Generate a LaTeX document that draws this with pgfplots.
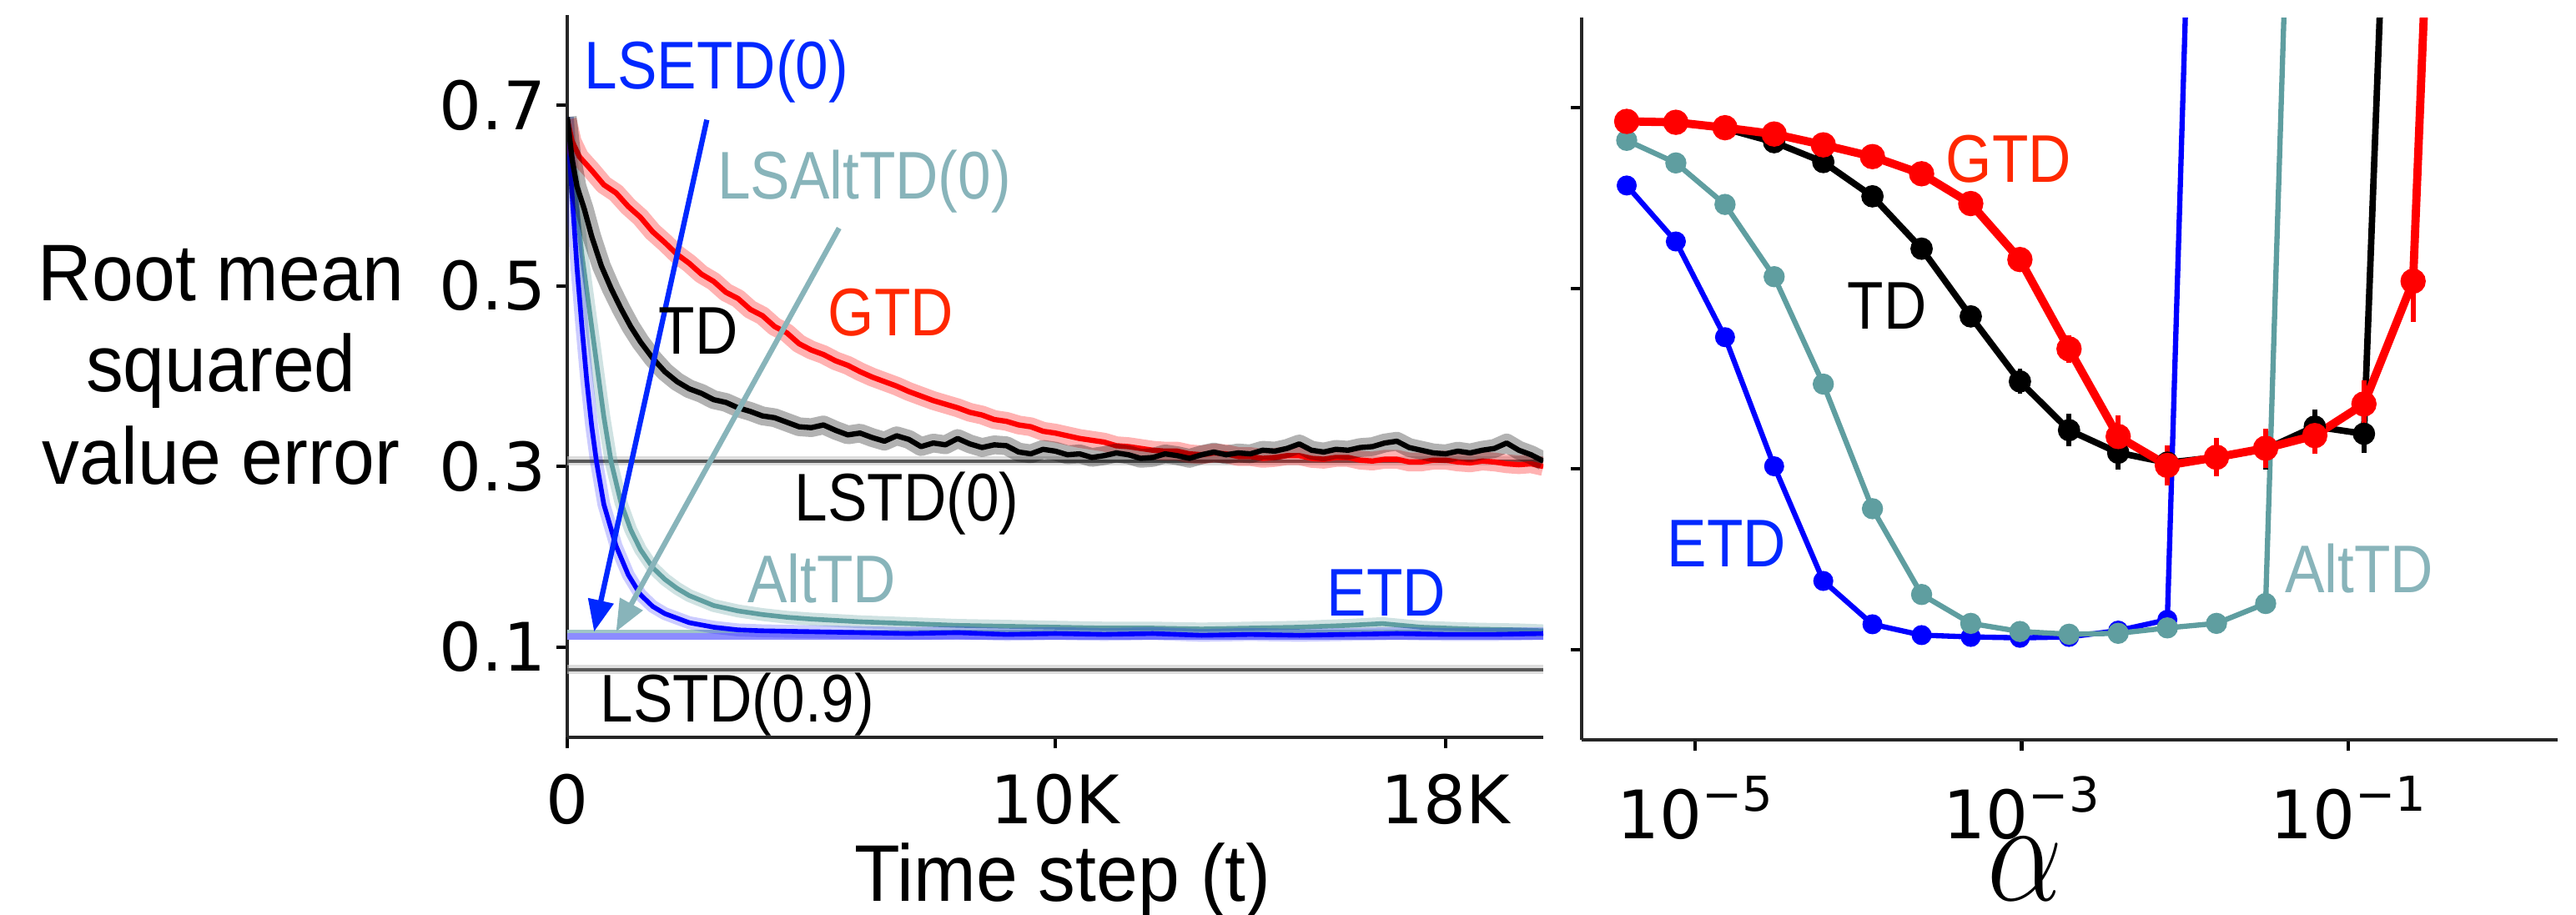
\documentclass[border=0pt]{standalone}
\usepackage{fontspec}
\setmainfont{Liberation Sans}
\newfontfamily\dejavu{DejaVu Sans}
\usepackage{graphicx}
\usepackage{pgfplots}
\pgfplotsset{compat=1.18}
\usetikzlibrary{arrows.meta}

\definecolor{etdblue}{RGB}{0,0,255}
\definecolor{lblblue}{RGB}{0,40,255}
\definecolor{altteal}{RGB}{95,158,160}
\definecolor{altlabel}{RGB}{136,180,186}
\definecolor{gtdred}{RGB}{255,0,0}
\definecolor{gtdlabel}{RGB}{255,40,0}

\newcommand\lab{\fontsize{11.5}{13}\selectfont}
\newcommand\sq[1]{\scalebox{0.88}[1]{#1}}
\newcommand\axlab{\fontsize{13.7}{15}\selectfont}
\newcommand\sqa[1]{\scalebox{0.93}[1]{#1}}
\newcommand\tk{\dejavu\fontsize{11.4}{13}\selectfont}
\newcommand\ex[1]{{\tk 10\raisebox{4.6pt}{\fontsize{8.2}{9}\selectfont #1}}}

% learning curves (time step, RMSVE)
\pgfplotstableread{
t v
0 0.687
100 0.640
200 0.610
350 0.585
500 0.555
700 0.522
900 0.497
1100 0.475
1300 0.455
1500 0.438
1750 0.420
2000 0.405
2250 0.394
2500 0.386
2750 0.381
3000 0.374
3250 0.371
3500 0.365
3750 0.361
4000 0.356
4250 0.354
4500 0.349
4750 0.344
5000 0.343
5250 0.346
5500 0.340
5750 0.335
6000 0.337
6250 0.332
6500 0.328
6750 0.334
7000 0.330
7250 0.322
7500 0.326
7750 0.324
8000 0.331
8250 0.325
8500 0.321
8750 0.324
9000 0.323
9250 0.316
9500 0.314
9750 0.319
10000 0.317
10250 0.313
10500 0.314
10750 0.310
11000 0.312
11250 0.315
11500 0.313
11750 0.309
12000 0.310
12250 0.314
12500 0.312
12750 0.309
13000 0.313
13250 0.316
13500 0.313
13750 0.315
14000 0.314
14250 0.318
14500 0.317
14750 0.320
15000 0.325
15250 0.318
15500 0.316
15750 0.319
16000 0.318
16250 0.321
16500 0.322
16750 0.326
17000 0.328
17250 0.321
17500 0.318
17750 0.315
18000 0.314
18250 0.317
18500 0.315
18750 0.318
19000 0.320
19250 0.326
19500 0.318
19750 0.313
20000 0.306
}\tdcurve

\pgfplotstableread{
t v
0 0.684
100 0.660
250 0.643
500 0.628
750 0.612
1000 0.603
1250 0.588
1500 0.576
1750 0.560
2000 0.548
2250 0.535
2500 0.525
2750 0.513
3000 0.505
3250 0.493
3500 0.486
3750 0.474
4000 0.467
4250 0.455
4500 0.448
4750 0.436
5000 0.429
5250 0.424
5500 0.417
5750 0.412
6000 0.405
6250 0.399
6500 0.394
6750 0.389
7000 0.383
7250 0.378
7500 0.373
7750 0.369
8000 0.365
8250 0.360
8500 0.357
8750 0.352
9000 0.350
9250 0.346
9500 0.344
9750 0.339
10000 0.337
10250 0.334
10500 0.331
10750 0.329
11000 0.327
11250 0.323
11500 0.322
11750 0.320
12000 0.318
12250 0.317
12500 0.317
12750 0.314
13000 0.313
13250 0.315
13500 0.314
13750 0.311
14000 0.311
14250 0.309
14500 0.310
14750 0.312
15000 0.312
15250 0.309
15500 0.308
15750 0.310
16000 0.310
16250 0.307
16500 0.306
16750 0.308
17000 0.308
17250 0.305
17500 0.305
17750 0.307
18000 0.307
18250 0.305
18500 0.304
18750 0.306
19000 0.305
19250 0.303
19500 0.302
19750 0.303
20000 0.300
}\gtdcurve

\pgfplotstableread{
t v
0 0.687
50 0.640
100 0.600
150 0.560
200 0.520
300 0.455
400 0.395
500 0.345
600 0.305
750 0.258
1000 0.212
1250 0.180
1500 0.158
1750 0.145
2000 0.137
2500 0.127
3000 0.122
3500 0.119
4000 0.118
5000 0.117
6000 0.116
7000 0.115
8000 0.116
9000 0.114
10000 0.115
11000 0.114
12000 0.115
13000 0.113
14000 0.114
15000 0.113
16000 0.114
17000 0.115
18000 0.114
19000 0.114
20000 0.115
}\etdcurve

\pgfplotstableread{
t v
0 0.687
100 0.630
200 0.585
300 0.535
400 0.495
500 0.455
600 0.415
750 0.355
900 0.305
1100 0.260
1300 0.230
1500 0.208
1750 0.188
2000 0.175
2250 0.165
2500 0.157
3000 0.146
3500 0.140
4000 0.136
4500 0.133
5000 0.131
6000 0.128
7000 0.126
8000 0.124
9000 0.123
10000 0.122
11000 0.121
12000 0.121
13000 0.120
14000 0.121
15000 0.122
16000 0.124
16700 0.126
17500 0.122
18500 0.120
19500 0.119
20000 0.118
}\altcurve

% parameter study (step size, RMSVE, error)
\pgfplotstableread{
a v e
3.8147e-6 0.685 0
7.6294e-6 0.684 0
1.5259e-5 0.677 0
3.0518e-5 0.662 0.004
6.1035e-5 0.640 0.004
1.2207e-4 0.602 0.005
2.4414e-4 0.544 0.006
4.8828e-4 0.469 0.008
9.7656e-4 0.397 0.014
1.9531e-3 0.343 0.018
3.9063e-3 0.318 0.019
7.8125e-3 0.307 0.019
1.5625e-2 0.313 0.020
3.125e-2 0.322 0.023
6.25e-2 0.347 0.019
0.125 0.339 0.021
0.25 1.78 0
}\tdsweep

\pgfplotstableread{
a v e
3.8147e-6 0.685 0.003
7.6294e-6 0.684 0.003
1.5259e-5 0.678 0.003
3.0518e-5 0.671 0.003
6.1035e-5 0.659 0.004
1.2207e-4 0.646 0.004
2.4414e-4 0.627 0.005
4.8828e-4 0.594 0.006
9.7656e-4 0.532 0.008
1.9531e-3 0.433 0.015
3.9063e-3 0.336 0.023
7.8125e-3 0.304 0.022
1.5625e-2 0.313 0.021
3.125e-2 0.323 0.022
6.25e-2 0.337 0.020
0.125 0.372 0.026
0.25 0.508 0.045
0.5 1.86 0
}\gtdsweep

\pgfplotstableread{
a v
3.8147e-6 0.664
7.6294e-6 0.639
1.5259e-5 0.593
3.0518e-5 0.513
6.1035e-5 0.394
1.2207e-4 0.256
2.4414e-4 0.161
4.8828e-4 0.129
9.7656e-4 0.120
1.9531e-3 0.117
3.9063e-3 0.118
7.8125e-3 0.124
1.5625e-2 0.129
3.125e-2 0.151
6.25e-2 1.90
}\altsweep

\pgfplotstableread{
a v
3.8147e-6 0.614
7.6294e-6 0.552
1.5259e-5 0.446
3.0518e-5 0.303
6.1035e-5 0.176
1.2207e-4 0.128
2.4414e-4 0.116
4.8828e-4 0.114
9.7656e-4 0.113
1.9531e-3 0.114
3.9063e-3 0.121
7.8125e-3 0.133
1.5625e-2 1.96
}\etdsweep

\pgfplotsset{
  panel/.style={
    anchor=south west, scale only axis,
    width=5.85cm, height=4.33cm,
    ymin=0, ymax=0.8,
    axis x line*=bottom, axis y line*=left,
    axis line style={black!85, line width=0.7pt},
    tick style={black, line width=0.6pt},
    tick align=outside, major tick length=0.065cm,
    ytick={0.1,0.3,0.5,0.7},
    scaled x ticks=false, scaled y ticks=false,
    xticklabel style={yshift=-0.03cm},
    yticklabel style={xshift=0.06cm},
  },
}

\begin{document}
\begin{tikzpicture}
\useasboundingbox (0,0) rectangle (15.44,5.48);

\begin{axis}[panel, at={(3.40cm,1.06cm)},
  xmin=0, xmax=20000,
  xtick={0,10000,18000}, xticklabels={{\tk 0},{\tk 10K},{\tk 18K}},
  yticklabels={{\tk 0.1},{\tk 0.3},{\tk 0.5},{\tk 0.7}},
]
% least-squares solutions
\addplot[gray!45, line width=1.6pt, opacity=0.6] coordinates {(0,0.306)(20000,0.306)};
\addplot[black!65, line width=0.6pt] coordinates {(0,0.306)(20000,0.306)};
\addplot[gray!45, line width=1.6pt, opacity=0.6] coordinates {(0,0.075)(20000,0.075)};
\addplot[black!65, line width=0.6pt] coordinates {(0,0.075)(20000,0.075)};
\addplot[altteal!60, line width=0.8pt] coordinates {(0,0.117)(20000,0.117)};
\addplot[etdblue!45, line width=1.2pt] coordinates {(0,0.112)(20000,0.112)};
% AltTD
\addplot[altteal, line width=2.2pt, opacity=0.3, line join=round] table {\altcurve};
\addplot[altteal, line width=0.8pt, line join=round] table {\altcurve};
% ETD
\addplot[etdblue, line width=2.2pt, opacity=0.2, line join=round] table {\etdcurve};
\addplot[etdblue, line width=0.8pt, line join=round] table {\etdcurve};
% GTD
\addplot[gtdred, line width=3.2pt, opacity=0.3, line join=round] table {\gtdcurve};
\addplot[gtdred, line width=0.9pt, line join=round] table {\gtdcurve};
% TD
\addplot[black, line width=3.2pt, opacity=0.3, line join=round] table {\tdcurve};
\addplot[black, line width=0.9pt, line join=round] table {\tdcurve};
% arrows to LS solutions
\draw[lblblue, line width=0.9pt, -{Triangle[length=0.19cm,width=0.15cm]}]
  (axis cs:2860,0.684) -- (axis cs:550,0.117);
\draw[altlabel, line width=0.9pt, -{Triangle[length=0.19cm,width=0.15cm]}]
  (axis cs:5570,0.564) -- (axis cs:1000,0.117);
\end{axis}

\begin{axis}[panel, at={(9.48cm,1.045cm)},
  xmode=log, xmin=2.02e-6, xmax=1.92,
  xtick={1e-5,1e-3,1e-1},
  xticklabels={\ex{−5},\ex{−3},\ex{−1}},
  xminorticks=false,
  yticklabels={},
]
\addplot[etdblue, line width=0.9pt, mark=*, mark size=1.25pt] table[x=a,y=v] {\etdsweep};
\addplot[altteal, line width=0.9pt, mark=*, mark size=1.35pt] table[x=a,y=v] {\altsweep};
\addplot[black, line width=1.1pt, mark=*, mark size=1.35pt,
  error bars/.cd, y dir=both, y explicit, error mark=none,
  error bar style={line width=0.8pt}]
  table[x=a,y=v,y error=e] {\tdsweep};
\addplot[gtdred, line width=1.4pt, mark=*, mark size=1.45pt,
  error bars/.cd, y dir=both, y explicit, error mark=none,
  error bar style={line width=0.8pt}]
  table[x=a,y=v,y error=e] {\gtdsweep};
\end{axis}

% y label
\node[inner sep=0, anchor=base] at (1.325,3.68) {\axlab\sqa{Root mean}};
\node[inner sep=0, anchor=base] at (1.325,3.13) {\axlab\sqa{squared}};
\node[inner sep=0, anchor=base] at (1.325,2.58) {\axlab\sqa{value error}};
% x labels
\node[inner sep=0, anchor=base] at (6.37,0.08) {\axlab\sqa{Time step (t)}};
\node[inner sep=0, anchor=base] at (12.14,0.085) {\fontsize{23}{24}\selectfont\scalebox{0.82}[1]{$\alpha$}};

% left panel annotations
\node[inner sep=0, anchor=base, text=lblblue] at (4.295,4.945) {\lab\sq{LSETD(0)}};
\node[inner sep=0, anchor=base, text=altlabel] at (5.18,4.285) {\lab\sq{LSAltTD(0)}};
\node[inner sep=0, anchor=base, text=black] at (4.185,3.36) {\lab\sq{TD}};
\node[inner sep=0, anchor=base, text=gtdlabel] at (5.34,3.47) {\lab\sq{GTD}};
\node[inner sep=0, anchor=base, text=black] at (5.435,2.36) {\lab\sq{LSTD(0)}};
\node[inner sep=0, anchor=base, text=altlabel] at (4.925,1.87) {\lab\sq{AltTD}};
\node[inner sep=0, anchor=base, text=lblblue] at (8.31,1.79) {\lab\sq{ETD}};
\node[inner sep=0, anchor=base, text=black] at (4.42,1.155) {\lab\sq{LSTD(0.9)}};

% right panel annotations
\node[inner sep=0, anchor=base, text=gtdlabel] at (12.04,4.39) {\lab\sq{GTD}};
\node[inner sep=0, anchor=base, text=black] at (11.31,3.51) {\lab\sq{TD}};
\node[inner sep=0, anchor=base, text=lblblue] at (10.35,2.085) {\lab\sq{ETD}};
\node[inner sep=0, anchor=base, text=altlabel] at (14.14,1.93) {\lab\sq{AltTD}};
\end{tikzpicture}
\end{document}
